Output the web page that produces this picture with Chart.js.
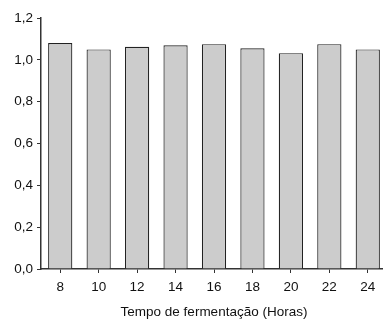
<!DOCTYPE html>
<html>
<head>
<meta charset="utf-8">
<script src="https://cdn.jsdelivr.net/npm/chart.js@4"></script>
<style>
  html, body { margin: 0; padding: 0; background: #fff; overflow: hidden; }
  #wrap { width: 390px; height: 320px; }
</style>
</head>
<body>
<div id="wrap"><canvas id="myChart" width="390" height="320"></canvas></div>
<script>
var horas = ['8', '10', '12', '14', '16', '18', '20', '22', '24'];
var valores = [1.08, 1.05, 1.062, 1.07, 1.075, 1.055, 1.032, 1.075, 1.05];
var ticksY = [0, 0.2, 0.4, 0.6, 0.8, 1.0, 1.2];
var tituloX = 'Tempo de fermentação (Horas)';

var fonte = { family: 'Liberation Sans, Arial, sans-serif', size: 13.5 };

var ctx = document.getElementById('myChart').getContext('2d');
var myChart = new Chart(ctx, {
  type: 'bar',
  data: {
    labels: horas,
    datasets: [{
      data: valores,
      backgroundColor: '#cccccc',
      borderColor: '#222222',
      borderWidth: 1.2,
      barPercentage: 0.63,
      categoryPercentage: 1
    }]
  },
  options: {
    responsive: false,
    animation: false,
    layout: { padding: { top: 18, right: 3, left: 0, bottom: 0 } },
    plugins: { legend: { display: false }, tooltip: { enabled: false } },
    scales: {
      x: {
        grid: { display: true, offset: false, drawOnChartArea: false, tickLength: 4, color: '#333' },
        border: { color: '#333', width: 1.5 },
        ticks: { color: '#111', font: fonte, padding: 6 },
        title: { display: true, text: tituloX, color: '#111', font: fonte, padding: { top: 4, bottom: 0 } },
        afterFit: function (s) { s.height = 51; }
      },
      y: {
        min: 0,
        max: 1.2,
        afterBuildTicks: function (s) { s.ticks = ticksY.map(function (v) { return { value: v }; }); },
        grid: { display: true, drawOnChartArea: false, tickLength: 4, color: '#333' },
        border: { color: '#333', width: 1.5 },
        ticks: {
          color: '#111',
          font: fonte,
          padding: 4,
          callback: function (v) { return v.toFixed(1).replace('.', ','); }
        },
        afterFit: function (s) { s.width = 41; }
      }
    }
  }
});
</script>
</body>
</html>
